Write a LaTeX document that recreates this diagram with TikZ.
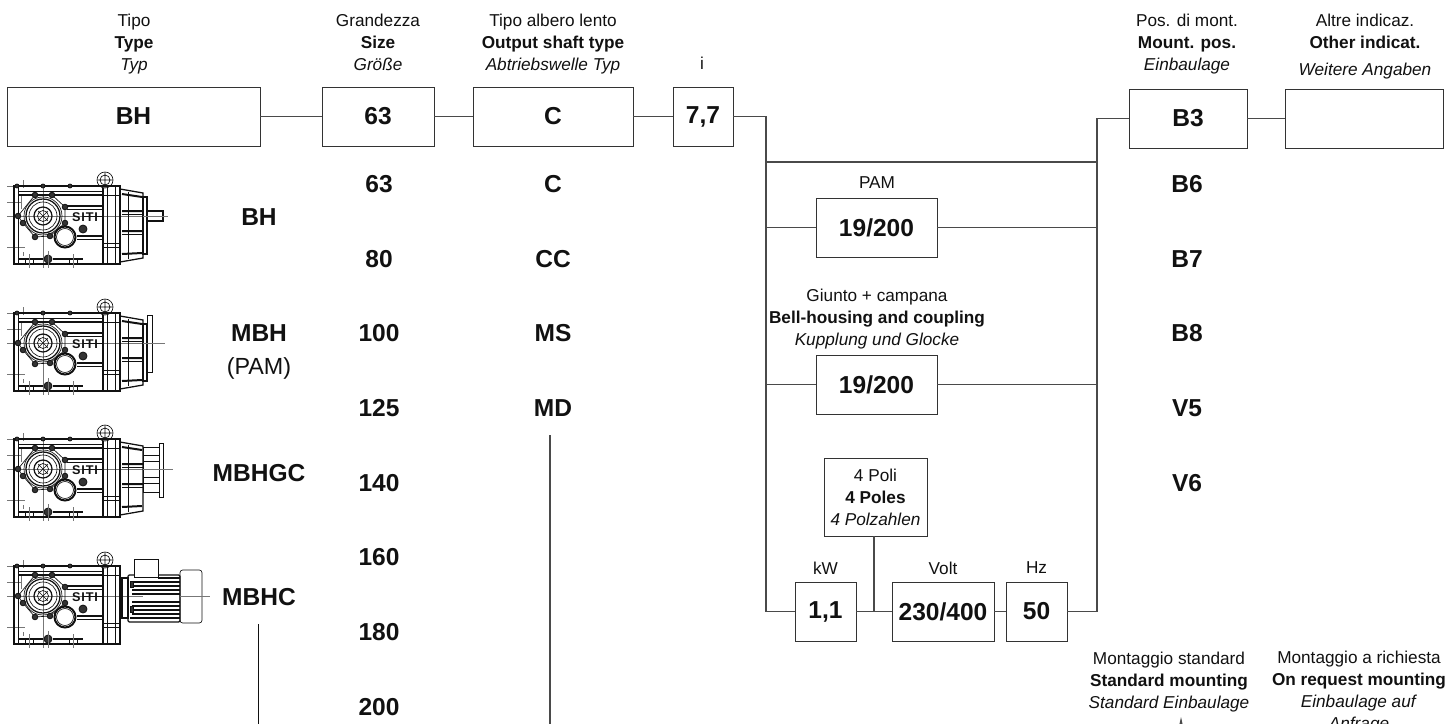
\documentclass[tikz,border=0pt]{standalone}
\usepackage{fontspec}
\setmainfont{Liberation Sans}
\usepackage{xcolor}
\usetikzlibrary{arrows.meta,positioning,calc}
\definecolor{ink}{HTML}{111111}
\definecolor{wire}{HTML}{4A4A4A}
\definecolor{edge}{HTML}{333333}
\definecolor{hatch}{HTML}{777777}
\tikzset{
  >={Stealth[length=3mm,width=1.3mm]},
  valbox/.style={draw=edge,fill=white,line width=.7pt,minimum height=44.25pt,inner sep=0pt,text=ink,font=\bfseries\fontsize{18.4}{20}\selectfont},
  flow/.style={line width=.9pt,color=wire},
  value/.style={text=ink,inner sep=0pt,font=\bfseries\fontsize{18.4}{20}\selectfont},
  caption/.style={text=ink,inner sep=0pt,align=center,font=\fontsize{12.9}{16.5}\selectfont},
  body/.style={line width=.95pt,draw=ink},
  thin body/.style={line width=.5pt,draw=ink},
  heavy/.style={line width=1.5pt,draw=ink},
  center line/.style={line width=.4pt,draw=hatch},
  bolt/.style={line width=.6pt,draw=ink,fill=edge},
  logo/.style={inner sep=0pt,text=ink,font=\bfseries\fontsize{9.5}{10}\selectfont},
}
\newcommand{\taper}{
  \draw[body] (77,-27)--(100,-23)--(100,42)--(77,46)--cycle;
  \draw[heavy] (79,-22)--(99,-19) (79,-5)--(100,-5) (79,15)--(100,15) (79,38)--(99,37);
  \draw[thin body] (79,-2)--(100,-2) (79,18)--(100,18) (85,-24)--(85,43);
}
\newcommand{\gearbox}[3]{
  \begin{scope}[shift={(43,#2)}]
    \draw[center line] (-36,0)--(100,0) (0,-30)--(0,52) (-36,-30)--(-15,-30) (-36,31)--(-18,31)
      (-20,-36)--(-20,-28) (-20,36)--(-20,40) (-36,-14)--(-22,-14) (-22,-20)--(-22,-7);
    \draw[body] (-29,-30) rectangle (60,48);
    \draw[heavy] (-29,-30)--(60,-30) (-29,48)--(60,48) (-29,-30)--(-29,-5) (-29,22)--(-29,48);
    \draw[thin body] (-25,-30)--(-25,48) (-25,-25)--(60,-25);
    \draw[heavy] (-24,-21)--(60,-21);
    \draw[heavy] (24,-10)--(60,-10) (34,20)--(60,20);
    \draw[thin body] (24,-7)--(60,-7) (34,23)--(60,23) (40,0)--(60,0);
    \draw[body] (60,-30) rectangle (77,48);
    \draw[thin body] (64,-30)--(64,48) (72,-30)--(72,48) (60,-21)--(77,-21) (60,27)--(77,27) (60,31)--(77,31);
    \draw[thin body] (-8,-21)--(9,-21)--(22,-9)--(22,7)--(7,20)--(-8,21)--(-20,7)--(-25,0)--cycle;
    \draw[body] (0,0) circle (17);
    \draw[thin body] (0,0) circle (19) (0,0) circle (14);
    \draw[body] (0,0) circle (9);
    \draw[thin body] (0,0) circle (5.5) (-5,-5)--(5,5) (-5,5)--(5,-5);
    \draw[heavy,fill=white] (22,21) circle (10.5);
    \draw[thin body] (22,21) circle (8.5);
    \draw[bolt] (40,13) circle (4);
    \draw[bolt] (5,43) circle (4);
    \foreach \bx/\by in {-8/-21,9/-21,22/-9,-25/0,-20/7,-8/21,7/20,22/7}
      \draw[bolt] (\bx,\by) circle (2.8);
    \draw[heavy] (-25,43)--(0,43) (10,43)--(40,43);
    \draw[center line] (-14,38)--(-14,52) (30,38)--(30,52) (5,35)--(5,52);
    \draw[thin body] (-18,43)--(-18,48) (-10,43)--(-10,48) (26,43)--(26,48) (34,43)--(34,48);
    \draw[bolt] (-26,-30) circle (2);
    \draw[bolt] (0,-30) circle (2);
    \draw[bolt] (27,-30) circle (2);
    \draw[thin body,fill=white] (62,-36) circle (8);
    \draw[thin body] (62,-36) circle (5) (54,-36)--(70,-36) (62,-44)--(62,-28);
    \draw[heavy] (55,-30)--(76,-30);
    \node[logo] (logo#1) at (42,1) {S\hspace{.6pt}I\hspace{.6pt}T\hspace{.6pt}I};
    #3
  \end{scope}
}
\begin{document}
\begin{tikzpicture}[x=.75pt,y=-.75pt]
  \useasboundingbox (0,0) rectangle (1445,724);
  \clip (0,0) rectangle (1445,724);

  \gearbox{a}{216}{
    \taper
    \draw[body] (100,-19) rectangle (104,38);
    \draw[body] (104,-5) rectangle (120,5);
    \draw[center line] (100,0)--(125,0);
  }
  \gearbox{b}{343}{
    \taper
    \draw[body] (100,-19) rectangle (104,38);
    \draw[thin body] (104,-28) rectangle (109,29);
    \draw[center line] (100,0)--(122,0);
  }
  \gearbox{c}{469}{
    \taper
    \draw[thin body] (100,-22) rectangle (116,23);
    \draw[thin body] (100,-14)--(116,-14) (100,-8)--(116,-8) (100,8)--(116,8) (100,14)--(116,14);
    \draw[thin body] (116,-26) rectangle (120,28);
    \draw[center line] (100,0)--(130,0);
  }
  \gearbox{d}{596}{
    \draw[body] (79,-18) rectangle (85,22);
    \draw[body,rounded corners=1pt] (85,-21) rectangle (137,26);
    \draw[thin body,fill=white] (91,-37) rectangle (115,-19);
    \draw[heavy] (115,-18)--(137,-18) (87,22)--(137,22);
    \foreach \fy in {-14,-10,-6,-2,6,10,14,18}
      \draw[body] (89,\fy)--(137,\fy);
    \draw[line width=1.2pt,draw=white] (94,2)--(105,2) (112,2)--(125,2);
    \draw[bolt] (87,-15) rectangle (90,-9);
    \draw[bolt] (87,10) rectangle (90,16);
    \draw[thin body,rounded corners=2pt] (137,-26) rectangle (159,27);
    \draw[center line] (137,0)--(167,0);
  }

  \node[caption] (typehead) at (134,44) {Tipo\\\textbf{Type}\\\textit{Typ}};
  \node[caption] (sizehead) at (378,42) {Grandezza\\\textbf{Size}\\\textit{Größe}};
  \node[caption] (shafthead) at (553,44) {Tipo albero lento\\\textbf{Output shaft type}\\\textit{Abtriebswelle Typ}};
  \node[caption] (ratiohead) at (702,63) {i};
  \node[caption] (mounthead) at (1187,44) {Pos. di mont.\\\textbf{Mount. pos.}\\\textit{Einbaulage}};
  \node[caption] (otherhead) at (1365,46.5) {Altre indicaz.\\\textbf{Other indicat.}\\[4pt]\textit{Weitere Angaben}};

  \node[valbox,minimum width=189.75pt] (typebox) at (133.5,116.5) {BH};
  \node[valbox,minimum width=84pt] (sizebox) at (378,116.5) {63};
  \node[valbox,minimum width=120pt] (shaftbox) at (553,116.5) {C};
  \node[valbox,minimum width=45pt] (ratiobox) at (703,116.5) {7,7};
  \node[valbox,minimum width=88.5pt] (mountbox) at (1188,118.5) {B3};
  \node[valbox,minimum width=118.5pt] (otherbox) at (1364,118.5) {};
  \draw[flow] (typebox)--(sizebox);
  \draw[flow] (sizebox)--(shaftbox);
  \draw[flow] (shaftbox)--(ratiobox);
  \draw[flow] (mountbox)--(otherbox);

  \node[value] (bhlabel) at (259,217) {BH};
  \node[value] (mbhlabel) at (259,333) {MBH};
  \node[caption,font=\fontsize{17.5}{20}\selectfont] (pamtag) at (259,368) {(PAM)};
  \node[value] (mbhgclabel) at (259,473) {MBHGC};
  \node[value] (mbhclabel) at (259,597) {MBHC};

  \foreach \s/\y in {63/184,80/259,100/333,125/408,140/483,160/557,180/632,200/707}
    \node[value] (size\s) at (379,\y) {\s};
  \foreach \s/\y in {C/184,CC/259,MS/333,MD/408}
    \node[value] (shaft\s) at (553,\y) {\s};
  \foreach \s/\y in {B6/184,B7/259,B8/333,V5/408,V6/483}
    \node[value] (mount\s) at (1187,\y) {\s};

  \coordinate (mbhcdrop) at (258,730);
  \coordinate (mbhcstart) at (258,624);
  \coordinate (mddrop) at (550,730);
  \coordinate (mdstart) at (550,435);
  \draw[flow,color=ink,line width=.7pt] (mbhcstart)--(mbhcdrop);
  \draw[flow] (mdstart)--(mddrop);

  \node[caption] (pamhead) at (877,183) {PAM};
  \node[valbox,minimum width=90.75pt] (pambox) at (876.5,227.5) {19/200};
  \node[caption] (bellhead) at (877,319.5) {Giunto + campana\\\textbf{Bell-housing and coupling}\\\textit{Kupplung und Glocke}};
  \node[valbox,minimum width=90.75pt] (bellbox) at (876.5,384.5) {19/200};

  \node[valbox,minimum width=45.75pt] (kwbox) at (825.5,611.5) {1,1};
  \node[valbox,minimum width=76.5pt] (voltbox) at (943,611.5) {230/400};
  \node[valbox,minimum width=45.75pt] (hzbox) at (1036.5,611.5) {50};
  \node[caption] (kwhead) at (825.5,568) {kW};
  \node[caption] (volthead) at (943,568) {Volt};
  \node[caption] (hzhead) at (1036.5,568) {Hz};
  \node[valbox,caption,draw=edge,minimum width=77.25pt,minimum height=58.5pt] (polesbox) at (875.5,497)
    {4 Poli\\\textbf{4 Poles}\\\textit{4 Polzahlen}};

  \coordinate (leftbus) at (766,611.5);
  \coordinate (rightbus) at (1097,611.5);
  \coordinate (topleft) at (766,162);
  \coordinate (topright) at (1097,162);
  \draw[flow] (ratiobox.east) -| (leftbus)--(kwbox.west);
  \draw[flow] (mountbox.west) -| (rightbus)--(hzbox.east);
  \draw[flow] (topleft)--(topright);
  \draw[flow] (pambox.west)--(pambox.west-|leftbus);
  \draw[flow] (pambox.east)--(pambox.east-|rightbus);
  \draw[flow] (bellbox.west)--(bellbox.west-|leftbus);
  \draw[flow] (bellbox.east)--(bellbox.east-|rightbus);
  \draw[flow] (kwbox)--(voltbox);
  \draw[flow] (voltbox)--(hzbox);
  \coordinate (polesjoin) at (874,611.5);
  \draw[flow] (polesbox.south-|polesjoin)--(polesjoin);

  \node[caption] (stdhead) at (1169,682.5) {Montaggio standard\\\textbf{Standard mounting}\\\textit{Standard Einbaulage}};
  \node[caption,anchor=north] (reqhead) at (1359,651) {Montaggio a richiesta\\\textbf{On request mounting}\\\textit{Einbaulage auf}\\\textit{Anfrage}};
  \coordinate (stdtip) at (1181,717);
  \coordinate (stdtail) at (1181,735);
  \draw[flow,<-] (stdtip)--(stdtail);
\end{tikzpicture}
\end{document}
